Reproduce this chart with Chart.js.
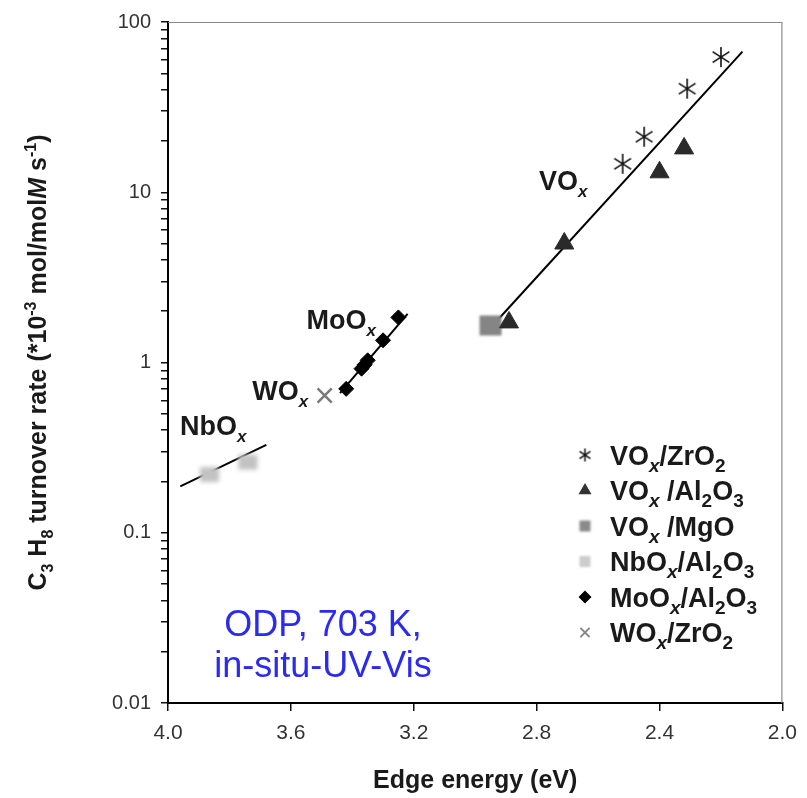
<!DOCTYPE html>
<html>
<head>
<meta charset="utf-8">
<script src="https://cdn.jsdelivr.net/npm/chart.js@4.4.1/dist/chart.umd.min.js"></script>
<style>
  html, body { margin: 0; padding: 0; background: #fff; }
  #wrap { width: 807px; height: 798px; }
</style>
</head>
<body>
<div id="wrap"><canvas id="chart" width="807" height="798"></canvas></div>
<script>
// edge energy (eV) vs. C3H8 turnover rate (*10^-3 mol/mol M s^-1)
const vZrE = [2.52, 2.45, 2.31, 2.20];
const vZrR = [14.7, 21.2, 40.6, 62.2];
const vAlE = [2.89, 2.71, 2.40, 2.32];
const vAlR = [1.72, 5.0, 13.1, 18.1];
const vMgE = [2.95];
const vMgR = [1.65];
const nbE  = [3.865, 3.74];
const nbR  = [0.22, 0.26];
const moE  = [3.42, 3.37, 3.36, 3.35, 3.30, 3.25];
const moR  = [0.70, 0.92, 0.97, 1.03, 1.35, 1.84];
const wE   = [3.49];
const wR   = [0.64];

// fit lines (end points)
const vFitE  = [2.95, 2.13];
const vFitR  = [1.60, 67];
const moFitE = [3.44, 3.22];
const moFitR = [0.66, 1.93];
const nbFitE = [3.96, 3.68];
const nbFitR = [0.187, 0.328];

// tick labels
const xTicks = [4.0, 3.6, 3.2, 2.8, 2.4, 2.0];
const yTicks = [0.01, 0.1, 1, 10, 100];

// group labels inside the plot (anchored at data coords, left / baseline)
const groupNames = ["VO", "MoO", "WO", "NbO"];
const groupAtE   = [2.792, 3.549, 3.726, 3.961];
const groupAtR   = [10.3, 1.57, 0.604, 0.377];

const pts = (xs, ys) => xs.map((x, i) => ({ x, y: ys[i] }));

const FONT = '"Liberation Sans", Arial, Helvetica, sans-serif';

// --- marker images -------------------------------------------------------
function makeAsterisk(r, lw) {
  const c = document.createElement("canvas");
  const s = Math.ceil(r * 2 + 4);
  c.width = c.height = s;
  const g = c.getContext("2d");
  const m = s / 2;
  const a = 33 * Math.PI / 180;
  g.strokeStyle = "#111";
  g.lineWidth = lw;
  g.beginPath();
  g.moveTo(m, m - r); g.lineTo(m, m + r);
  g.moveTo(m - r * Math.cos(a), m - r * Math.sin(a)); g.lineTo(m + r * Math.cos(a), m + r * Math.sin(a));
  g.moveTo(m - r * Math.cos(a), m + r * Math.sin(a)); g.lineTo(m + r * Math.cos(a), m - r * Math.sin(a));
  g.stroke();
  return c;
}

function makeBlurBox(w, h, color, blur) {
  const c = document.createElement("canvas");
  const pad = Math.ceil(blur * 3);
  c.width = w + pad * 2;
  c.height = h + pad * 2;
  const g = c.getContext("2d");
  g.filter = `blur(${blur}px)`;
  g.fillStyle = color;
  g.fillRect(pad, pad, w, h);
  return c;
}

const starBig   = makeAsterisk(10, 1.6);
const starSmall = makeAsterisk(6.5, 1.5);
const mgBig     = makeBlurBox(22, 20, "#858585", 1);
const mgSmall   = makeBlurBox(11, 11, "#8a8a8a", 0.8);
const nbBig     = makeBlurBox(19, 15, "#c2c2c2", 2);
const nbSmall   = makeBlurBox(11, 11, "#cccccc", 1.2);

// --- rich text (sub / sup / italic) --------------------------------------
function richText(ctx, parts, x, y, size, weight, align, ratio = 0.62) {
  const segs = parts.map(([t, st]) => {
    const small = st.includes("sub") || st.includes("sup");
    const fs = small ? Math.round(size * ratio) : size;
    const font = `${st.startsWith("i") ? "italic " : ""}${weight} ${fs}px ${FONT}`;
    ctx.font = font;
    const dy = st.includes("sub") ? size * 0.26 : st.includes("sup") ? -size * 0.42 : 0;
    return { t, font, dy, w: ctx.measureText(t).width };
  });
  const total = segs.reduce((s, g) => s + g.w, 0);
  let cx = align === "center" ? x - total / 2 : x;
  ctx.textAlign = "left";
  ctx.textBaseline = "alphabetic";
  segs.forEach(g => {
    ctx.font = g.font;
    ctx.fillText(g.t, cx, y + g.dy);
    cx += g.w;
  });
}

const legendRows = [
  { sym: { pointStyle: starSmall, radius: 6 }, fill: "#111",
    parts: [["VO", ""], ["x", "isub"], ["/ZrO", ""], ["2", "sub"]] },
  { sym: { pointStyle: "triangle", radius: 7.5 }, fill: "#333",
    parts: [["VO", ""], ["x", "isub"], [" /Al", ""], ["2", "sub"], ["O", ""], ["3", "sub"]] },
  { sym: { pointStyle: mgSmall, radius: 6 }, fill: "#888",
    parts: [["VO", ""], ["x", "isub"], [" /MgO", ""]] },
  { sym: { pointStyle: nbSmall, radius: 6 }, fill: "#ccc",
    parts: [["NbO", ""], ["x", "isub"], ["/Al", ""], ["2", "sub"], ["O", ""], ["3", "sub"]] },
  { sym: { pointStyle: "rectRot", radius: 6.5 }, fill: "#000",
    parts: [["MoO", ""], ["x", "isub"], ["/Al", ""], ["2", "sub"], ["O", ""], ["3", "sub"]] },
  { sym: { pointStyle: "crossRot", radius: 6.5, borderWidth: 2 }, fill: "#888", stroke: "#888",
    parts: [["WO", ""], ["x", "isub"], ["/ZrO", ""], ["2", "sub"]] },
];

const decorPlugin = {
  id: "decor",
  afterDraw(chart) {
    const ctx = chart.ctx;
    const { left, right, top, bottom } = chart.chartArea;
    const xs = chart.scales.x, ys = chart.scales.y;
    ctx.save();

    // frame top / right
    ctx.strokeStyle = "#8a8a8a";
    ctx.lineWidth = 1.2;
    ctx.beginPath();
    ctx.moveTo(left, top + 0.5);
    ctx.lineTo(right - 0.5, top + 0.5);
    ctx.lineTo(right - 0.5, bottom);
    ctx.stroke();

    // group labels
    ctx.fillStyle = "#1a1a1a";
    groupNames.forEach((n, i) => {
      const px = xs.getPixelForValue(groupAtE[i]);
      const py = ys.getPixelForValue(groupAtR[i]);
      richText(ctx, [[n, ""], ["x", "isub"]], px, py, 27, "bold", "left");
    });

    // legend
    legendRows.forEach((row, i) => {
      const cy = 455 + i * 35.5;
      ctx.fillStyle = row.fill;
      ctx.strokeStyle = row.stroke || row.fill;
      ctx.lineWidth = row.sym.borderWidth || 0;
      Chart.helpers.drawPoint(ctx, {
        pointStyle: row.sym.pointStyle, radius: row.sym.radius,
        rotation: 0, borderWidth: row.sym.borderWidth || 0,
      }, 585, cy);
      ctx.fillStyle = "#1a1a1a";
      richText(ctx, row.parts, 610, cy + 9.5, 27, "bold", "left", 0.7);
    });

    // blue note
    ctx.fillStyle = "#2b2bef";
    ctx.font = `36px ${FONT}`;
    ctx.textAlign = "center";
    ctx.textBaseline = "middle";
    ctx.fillText("ODP, 703 K,", 323, 626);
    ctx.fillText("in-situ-UV-Vis", 323, 667);

    // axis titles
    ctx.fillStyle = "#1a1a1a";
    richText(ctx, [["Edge energy (eV)", ""]], (left + right) / 2, 788, 25, "bold", "center");
    ctx.translate(46, (top + bottom) / 2);
    ctx.rotate(-Math.PI / 2);
    richText(ctx, [
      ["C", ""], ["3", "sub"], [" H", ""], ["8", "sub"], [" turnover rate (*10", ""], ["-3", "sup"],
      [" mol/mol", ""], ["M", "i"], [" s", ""], ["-1", "sup"], [")", ""],
    ], 0, 0, 25, "bold", "center");
    ctx.restore();
  },
};

const fitLine = (xs, ys) => ({
  type: "line", data: pts(xs, ys), showLine: true, borderColor: "#000",
  borderWidth: 2, pointRadius: 0, fill: false,
});

new Chart(document.getElementById("chart"), {
  type: "scatter",
  data: {
    datasets: [
      { data: pts(vZrE, vZrR), pointStyle: starBig, pointRadius: 10 },
      { data: pts(vAlE, vAlR), pointStyle: "triangle", pointRadius: 11,
        backgroundColor: "#2a2a2a", borderColor: "#2a2a2a", borderWidth: 1 },
      { data: pts(vMgE, vMgR), pointStyle: mgBig, pointRadius: 11 },
      { data: pts(nbE, nbR), pointStyle: nbBig, pointRadius: 10 },
      { data: pts(moE, moR), pointStyle: "rectRot", pointRadius: 7.5,
        backgroundColor: "#000", borderColor: "#000", borderWidth: 1 },
      { data: pts(wE, wR), pointStyle: "crossRot", pointRadius: 10,
        borderColor: "#7a7a7a", borderWidth: 2.5 },
      fitLine(vFitE, vFitR),
      fitLine(moFitE, moFitR),
      fitLine(nbFitE, nbFitR),
    ],
  },
  options: {
    responsive: false,
    devicePixelRatio: 1,
    animation: false,
    layout: { padding: { left: 0, right: 18, top: 18, bottom: 0 } },
    plugins: { legend: { display: false }, tooltip: { enabled: false } },
    scales: {
      x: {
        type: "linear",
        reverse: true,
        min: 2.0,
        max: 4.0,
        afterBuildTicks: s => { s.ticks = xTicks.map(v => ({ value: v })); },
        afterFit: s => { s.height = 95; },
        border: { color: "#000", width: 2 },
        grid: { drawOnChartArea: false, drawTicks: true, tickLength: 8, color: "#111", lineWidth: 1.5 },
        ticks: {
          padding: 10,
          color: "#333",
          font: { size: 21, family: FONT },
          callback: v => Number(v).toFixed(1),
        },
      },
      y: {
        type: "logarithmic",
        min: 0.01,
        max: 100,
        afterBuildTicks: s => {
          const t = [];
          for (let e = -2; e < 2; e++) {
            for (let k = 1; k <= 9; k++) t.push({ value: k * Math.pow(10, e) });
          }
          t.push({ value: 100 });
          s.ticks = t;
        },
        afterFit: s => { s.width = 168; },
        border: { color: "#000", width: 2 },
        grid: { drawOnChartArea: false, drawTicks: true, tickLength: 7, color: "#111", lineWidth: 1.5 },
        ticks: {
          autoSkip: false,
          padding: 10,
          color: "#333",
          font: { size: 20, family: FONT },
          callback: v => {
            const m = yTicks.find(t => Math.abs(t - v) / t < 1e-6);
            return m !== undefined ? String(m) : "";
          },
        },
      },
    },
  },
  plugins: [decorPlugin],
});
</script>
</body>
</html>
